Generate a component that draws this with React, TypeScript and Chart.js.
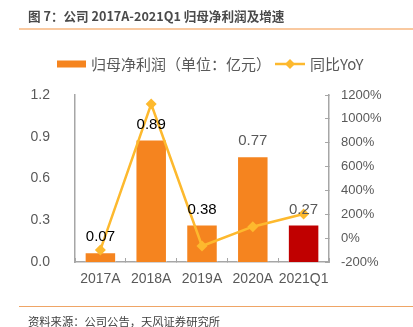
import React, { useEffect, useRef } from "react";
import { Chart, registerables } from "chart.js";

Chart.register(...registerables);

const categories = ["2017A", "2018A", "2019A", "2020A", "2021Q1"];
const profitValues = [0.07, 0.88, 0.27, 0.76, 0.27];
const profitLabels = ["0.07", "0.89", "0.38", "0.77", "0.27"];
const profitLabelColors = ["#000000", "#000000", "#000000", "#595959", "#595959"];
const yoyValues = [-99, 1124, -66, 96, 202];
const barColors = ["#F5841F", "#F5841F", "#F5841F", "#F5841F", "#C00000"];
const legendProfit = "归母净利润（单位：亿元）";
const legendYoy = "同比YoY";
const titleText = "图 7：公司 2017A-2021Q1 归母净利润及增速";
const sourceText = "资料来源：公司公告，天风证券研究所";

const FONT = '"Liberation Sans", "Noto Sans CJK SC", sans-serif';
const CJK = '"Noto Sans CJK SC", "Liberation Sans", sans-serif';
const AXIS = "#A6A6A6";
const TEXT = "#595959";
const LINE = "#FDB92E";

const labelPlugin = {
  id: "barLabels",
  afterDatasetsDraw(chart: any) {
    const ctx = chart.ctx;
    const meta = chart.getDatasetMeta(0);
    ctx.save();
    ctx.font = `15px ${FONT}`;
    ctx.textAlign = "center";
    ctx.textBaseline = "middle";
    meta.data.forEach((bar: any, i: number) => {
      ctx.fillStyle = profitLabelColors[i];
      ctx.fillText(profitLabels[i], bar.x, bar.y - 15);
    });
    ctx.restore();
  },
};

const legendPlugin = {
  id: "customLegend",
  afterDraw(chart: any) {
    const ctx = chart.ctx;
    const y = 64;
    ctx.save();
    ctx.fillStyle = "#F5841F";
    ctx.fillRect(57, y - 3.5, 29, 7);
    ctx.font = `15px ${CJK}`;
    ctx.fillStyle = TEXT;
    ctx.textBaseline = "middle";
    ctx.textAlign = "left";
    ctx.fillText(legendProfit, 91, y);
    ctx.strokeStyle = LINE;
    ctx.lineWidth = 2.5;
    ctx.beginPath();
    ctx.moveTo(275, y);
    ctx.lineTo(305, y);
    ctx.stroke();
    ctx.fillStyle = LINE;
    ctx.beginPath();
    ctx.moveTo(290, y - 5);
    ctx.lineTo(295, y);
    ctx.lineTo(290, y + 5);
    ctx.lineTo(285, y);
    ctx.closePath();
    ctx.fill();
    ctx.fillStyle = TEXT;
    ctx.fillText(legendYoy, 310, y);
    ctx.restore();
  },
};

export default function App() {
  const ref = useRef<HTMLCanvasElement | null>(null);

  useEffect(() => {
    document.body.style.margin = "0";
    const chart = new Chart(ref.current as HTMLCanvasElement, {
      type: "bar",
      data: {
        labels: categories,
        datasets: [
          {
            type: "bar",
            label: legendProfit,
            data: profitValues,
            backgroundColor: barColors,
            borderColor: "rgba(255,255,255,0.35)",
            borderWidth: 1,
            categoryPercentage: 0.62,
            barPercentage: 1,
            yAxisID: "y",
            order: 1,
          },
          {
            type: "line",
            label: legendYoy,
            data: yoyValues,
            borderColor: LINE,
            backgroundColor: LINE,
            borderWidth: 2.5,
            pointStyle: "rectRot",
            pointRadius: 5.5,
            pointBorderWidth: 0,
            tension: 0,
            yAxisID: "y1",
            order: 0,
          },
        ],
      },
      options: {
        responsive: false,
        animation: false,
        layout: { padding: { top: 95, left: 0, right: 0, bottom: 0 } },
        plugins: {
          legend: { display: false },
          tooltip: { enabled: false },
          title: { display: false },
        },
        scales: {
          x: {
            offset: true,
            grid: {
              display: true,
              drawOnChartArea: false,
              drawTicks: true,
              tickLength: -4,
              color: AXIS,
              offset: true,
            },
            border: { display: true, color: AXIS, width: 1.5 },
            ticks: {
              color: TEXT,
              font: { size: 14, family: FONT },
              padding: 13,
              maxRotation: 0,
              autoSkip: false,
            },
            afterFit: (s: any) => {
              s.height = 65;
            },
          },
          y: {
            position: "left",
            min: 0,
            max: 1.2,
            grid: { display: false },
            border: { display: true, color: AXIS, width: 1.5 },
            ticks: {
              stepSize: 0.3,
              color: TEXT,
              font: { size: 14, family: FONT },
              padding: 17,
              callback: (v: any) => Number(v).toFixed(1),
            },
            afterFit: (s: any) => {
              s.width = 75;
            },
          },
          y1: {
            position: "right",
            min: -200,
            max: 1200,
            grid: {
              display: true,
              drawOnChartArea: false,
              drawTicks: true,
              tickLength: -4,
              color: AXIS,
            },
            border: { display: true, color: AXIS, width: 1.5 },
            ticks: {
              stepSize: 200,
              color: TEXT,
              font: { size: 13, family: FONT },
              padding: 16,
              callback: (v: any) => `${v}%`,
            },
            afterFit: (s: any) => {
              s.width = 84;
            },
          },
        },
      } as any,
      plugins: [labelPlugin, legendPlugin],
    });
    return () => chart.destroy();
  }, []);

  return (
    <div style={{ position: "fixed", left: 0, top: 0, width: 413, height: 327, background: "#fff", overflow: "hidden" }}>
      <canvas ref={ref} width={413} height={327} style={{ position: "absolute", left: 0, top: 0 }} />
      <div
        style={{
          position: "absolute",
          left: 28,
          top: 7,
          fontFamily: CJK,
          fontWeight: 600,
          fontSize: 12.6,
          lineHeight: "18px",
          color: "#4A4A4A",
          whiteSpace: "nowrap",
        }}
      >
        {titleText}
      </div>
      <div style={{ position: "absolute", left: 19, top: 28, width: 394, height: 2, background: "#F9C9A0" }} />
      <div style={{ position: "absolute", left: 19, top: 306, width: 394, height: 1, background: "#EFA566" }} />
      <div
        style={{
          position: "absolute",
          left: 28,
          top: 313,
          fontFamily: CJK,
          fontSize: 11.3,
          lineHeight: "16px",
          color: "#404040",
          whiteSpace: "nowrap",
        }}
      >
        {sourceText}
      </div>
    </div>
  );
}
